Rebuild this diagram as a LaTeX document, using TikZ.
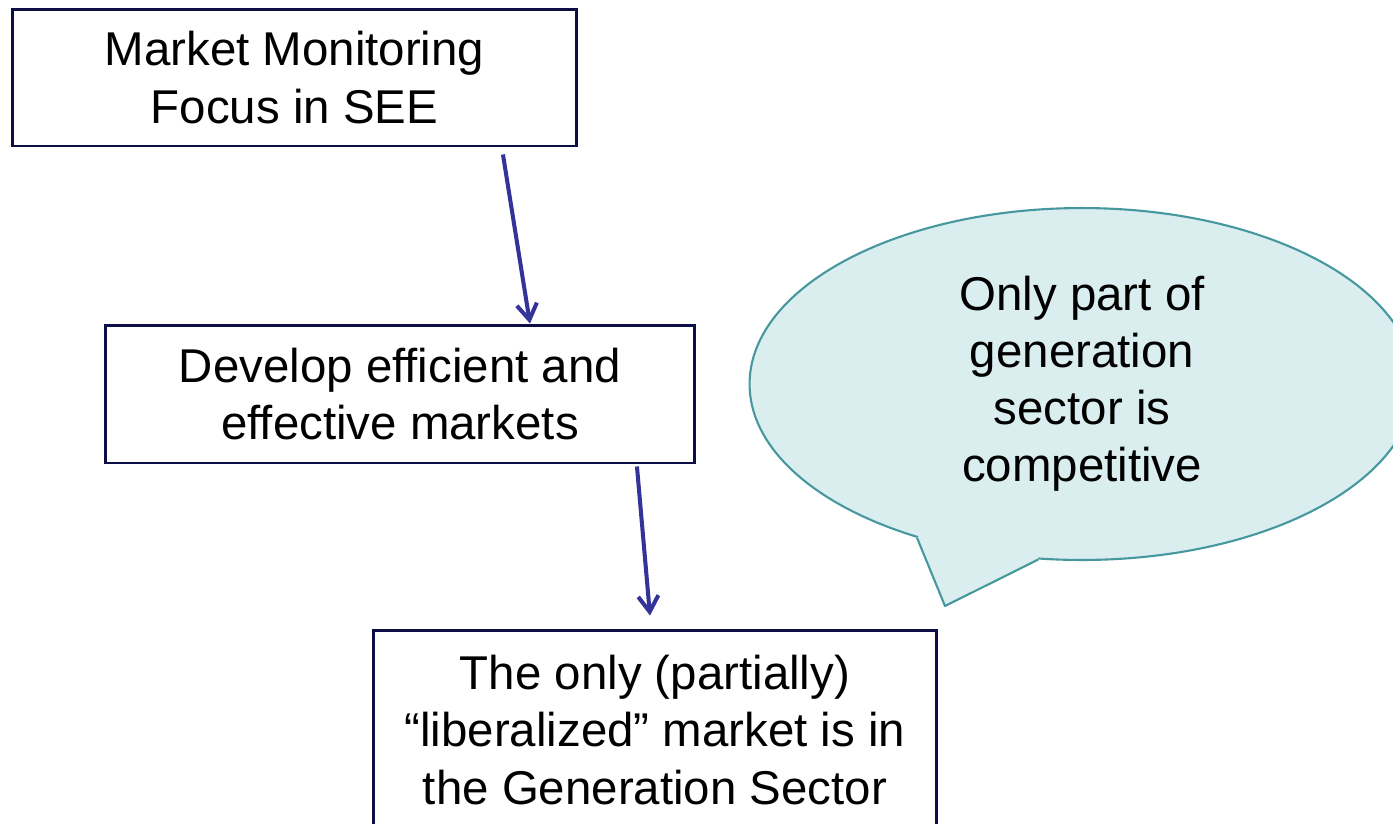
\documentclass[tikz,border=0pt]{standalone}
\usepackage{fontspec}
\setmainfont{Liberation Sans}
\usetikzlibrary{arrows.meta,shapes.geometric}

\definecolor{boxline}{RGB}{14,14,70}
\definecolor{arrowblue}{RGB}{51,51,153}
\definecolor{bubblefill}{RGB}{218,237,239}
\definecolor{bubbleline}{RGB}{70,152,158}

\tikzset{
  bigtext/.style={font=\fontsize{27}{32.5}\selectfont, align=center},
  focusbox/.style={bigtext, draw=boxline, line width=1.7pt, fill=white, inner sep=0pt},
  flowarrow/.style={draw=arrowblue, line width=2.3pt, -{Straight Barb[length=9pt,width=11.5pt]}},
  bubble/.style={bigtext, ellipse, draw=bubbleline, line width=1.2pt, fill=bubblefill,
    minimum width=13.3cm, minimum height=7.04cm, inner sep=0pt}
}

\begin{document}
\begin{tikzpicture}[x=0.02cm, y=-0.02cm]
        \useasboundingbox (0,0) rectangle (1393,823);
        \clip (0,0) rectangle (1393,823);

        % boxes
        \node[focusbox, minimum width=11.3cm, minimum height=2.74cm] (focus) at (294.5,77.5)
            {Market Monitoring\\Focus in SEE};
        \node[focusbox, minimum width=11.8cm, minimum height=2.76cm] (develop) at (400,394)
            {Develop efficient and\\effective markets};
        \node[focusbox, minimum width=11.28cm, minimum height=4cm] (liberal) at (655,730)
            {The only (partially)\\``liberalized'' market is in\\the Generation Sector};

        % arrows
        \draw[flowarrow] ([xshift=4.17cm,yshift=-0.14cm]focus.south) -- ([xshift=2.6cm]develop.north);
        \draw[flowarrow] ([xshift=4.74cm,yshift=-0.04cm]develop.south) -- ([xshift=-0.1cm,yshift=0.26cm]liberal.north);

        % callout
        \node[bubble] (note) at (1082,384)
            {Only part of\\generation\\sector is\\competitive};
        \coordinate (tip) at (945,606);
        \fill[bubblefill] (note.223) -- (tip) -- (note.256) -- ([yshift=0.16cm]note.256)
            -- ([xshift=0.12cm,yshift=0.12cm]note.223) -- cycle;
        \draw[bubbleline, line width=1.2pt, line join=round] (note.223) -- (tip) -- (note.256);
    \end{tikzpicture}
\end{document}
